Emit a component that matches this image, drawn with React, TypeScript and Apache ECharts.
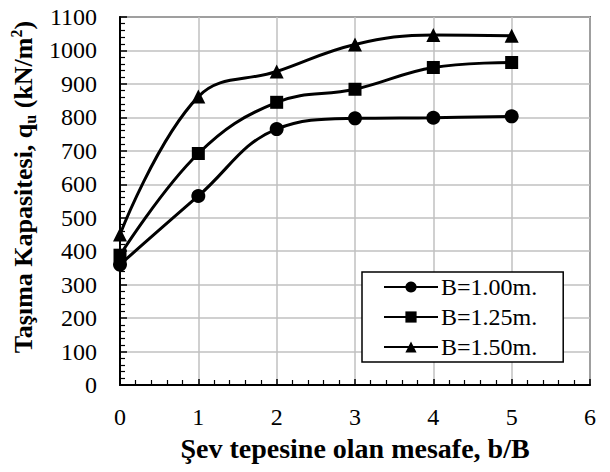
import React, { useEffect, useRef } from "react";
import * as echarts from "echarts";

// b/B distances
const distances = [0, 1, 2, 3, 4, 5];
// bearing capacity q_u (kN/m²) for each footing width
const qB100 = [360, 565, 765, 797, 799, 803];
const qB125 = [388, 692, 845, 884, 949, 964];
const qB150 = [450, 862, 937, 1018, 1046, 1044];
const seriesNames = ["B=1.00m.", "B=1.25m.", "B=1.50m."];
const seriesSymbols = ["circle", "rect", "triangle"];

const FONT = "'Liberation Serif', 'Times New Roman', serif";

export default function App() {
  const ref = useRef<HTMLDivElement>(null);

  useEffect(() => {
    if (!ref.current) return;
    const chart = echarts.init(ref.current, undefined, { renderer: "svg" });
    const datasets = [qB100, qB125, qB150];

    chart.setOption({
      animation: false,
      backgroundColor: "#fff",
      textStyle: { fontFamily: FONT, color: "#000" },
      grid: {
        left: 120,
        right: 20,
        top: 17,
        bottom: 87,
        show: true,
        borderColor: "#000",
        borderWidth: 1.5,
      },
      legend: {
        orient: "vertical",
        left: 362,
        top: 272,
        padding: [3, 26, 3, 21],
        itemGap: 6,
        itemWidth: 54,
        itemHeight: 14,
        backgroundColor: "#fff",
        borderColor: "#000",
        borderWidth: 1.5,
        borderRadius: 0,
        textStyle: { fontFamily: FONT, fontSize: 24, lineHeight: 24, color: "#000", padding: [0, 0, 0, -2] },
        data: seriesNames,
      },
      xAxis: {
        type: "value",
        min: 0,
        max: 6,
        interval: 1,
        name: "Şev tepesine olan mesafe, b/B",
        nameLocation: "middle",
        nameGap: 49,
        nameTextStyle: { fontFamily: FONT, fontSize: 28, lineHeight: 28, fontWeight: "bold", color: "#000" },
        axisLine: { show: true, lineStyle: { color: "#000", width: 2 } },
        axisTick: { show: true, inside: true, length: 6, lineStyle: { color: "#000", width: 1.5 } },
        minorTick: { show: true, splitNumber: 5, length: 5, lineStyle: { color: "#000", width: 1.2 } },
        axisLabel: { fontFamily: FONT, fontSize: 24, color: "#000", margin: 20, formatter: (v: number) => String(v) },
        splitLine: { show: true, lineStyle: { color: "#c0c0c0", width: 1.5 } },
      },
      yAxis: {
        type: "value",
        min: 0,
        max: 1100,
        interval: 100,
        name: "{a|Taşıma Kapasitesi, q}{sub|u}{a| (kN/m}{sup|2}{a|)}",
        nameLocation: "middle",
        nameGap: 80,
        nameTextStyle: {
          fontFamily: FONT,
          color: "#000",
          padding: [0, 0, 0, 28],
          rich: {
            a: { fontFamily: FONT, fontSize: 26, fontWeight: "bold", color: "#000", lineHeight: 30, verticalAlign: "middle" },
            sub: { fontFamily: FONT, fontSize: 16, fontWeight: "bold", color: "#000", lineHeight: 30, verticalAlign: "bottom" },
            sup: { fontFamily: FONT, fontSize: 16, fontWeight: "bold", color: "#000", lineHeight: 30, verticalAlign: "top" },
          },
        },
        axisLine: { show: true, lineStyle: { color: "#000", width: 2 } },
        axisTick: { show: true, inside: true, length: 7, lineStyle: { color: "#000", width: 1.5 } },
        minorTick: { show: true, splitNumber: 5, length: 5, lineStyle: { color: "#000", width: 1.2 } },
        axisLabel: { fontFamily: FONT, fontSize: 24, color: "#000", margin: 23, formatter: (v: number) => String(v) },
        splitLine: { show: true, lineStyle: { color: "#c0c0c0", width: 1.5 } },
      },
      series: datasets.map((vals, i) => ({
        name: seriesNames[i],
        type: "line",
        smooth: 0.4,
        symbol: seriesSymbols[i],
        symbolSize: i === 1 ? 13 : 14,
        data: distances.map((d, j) => [d, vals[j]]),
        lineStyle: { color: "#000", width: 3 },
        itemStyle: { color: "#000" },
      })),
    });

    return () => chart.dispose();
  }, []);

  return <div ref={ref} style={{ width: 610, height: 472, position: "absolute", left: 0, top: 0 }} />;
}
